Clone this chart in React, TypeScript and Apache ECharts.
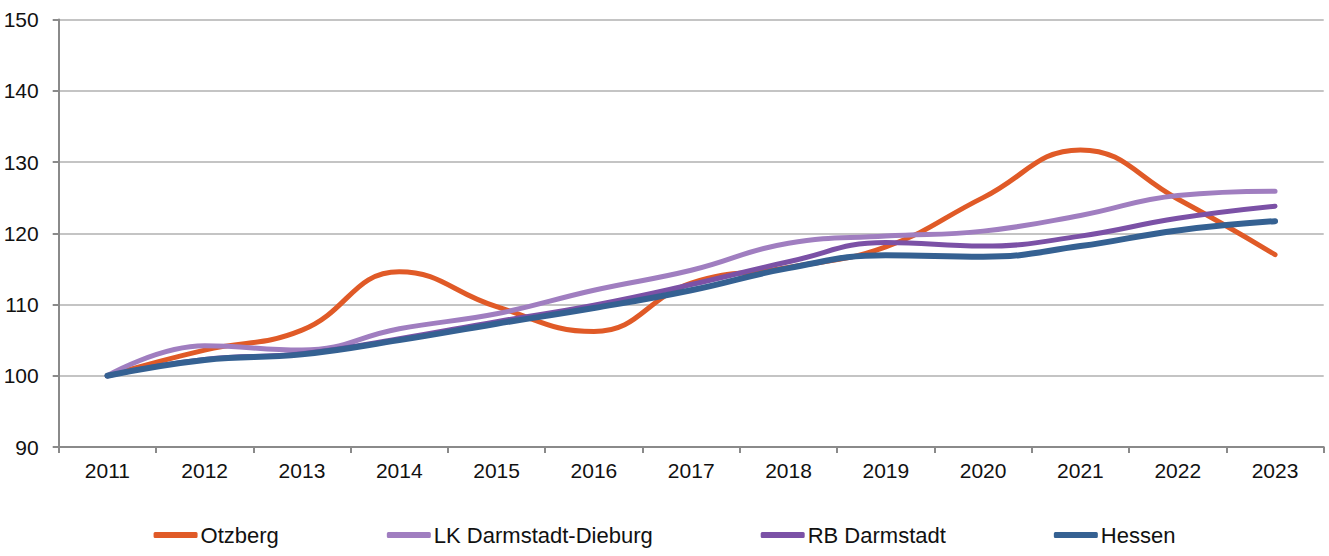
import React, { useEffect, useRef } from "react";
import * as echarts from "echarts";

const years = ["2011", "2012", "2013", "2014", "2015", "2016", "2017", "2018", "2019", "2020", "2021", "2022", "2023"];
const otzberg = [100, 103.6, 106.4, 114.6, 109.7, 106.2, 113.0, 115.2, 118.1, 125.0, 131.7, 124.8, 117.0];
const lkDarmstadtDieburg = [100, 104.2, 103.6, 106.6, 108.7, 112.0, 114.8, 118.6, 119.6, 120.3, 122.5, 125.3, 125.9];
const rbDarmstadt = [100, 102.3, 103.1, 105.2, 107.6, 109.9, 112.8, 116.0, 118.7, 118.2, 119.6, 122.1, 123.8];
const hessen = [100, 102.2, 103.0, 105.0, 107.3, 109.5, 112.0, 115.1, 116.9, 116.7, 118.2, 120.4, 121.7];

const seriesNames = ["Otzberg", "LK Darmstadt-Dieburg", "RB Darmstadt", "Hessen"];
const seriesData = [otzberg, lkDarmstadtDieburg, rbDarmstadt, hessen];
const colors = ["#E05A27", "#A07EC0", "#7B51A6", "#356192"];
const widths = [5, 5, 5, 6];

const FONT = "'Liberation Sans Narrow', 'Liberation Sans', Arial, sans-serif";

export default function App() {
  const ref = useRef<HTMLDivElement>(null);
  useEffect(() => {
    if (!ref.current) return;
    const chart = echarts.init(ref.current, null, { renderer: "svg" });
    chart.setOption({
      animation: false,
      backgroundColor: "#ffffff",
      grid: { left: 58.7, right: 5.3, top: 19.5, bottom: 109, containLabel: false },
      legend: {
        bottom: 5,
        left: "center",
        itemWidth: 44,
        itemHeight: 6,
        itemGap: 108,
        icon: "roundRect",
        textStyle: { fontFamily: FONT, fontSize: 22, color: "#111", padding: [0, 0, 0, -2] },
        data: seriesNames,
      },
      xAxis: {
        type: "category",
        data: years,
        boundaryGap: true,
        axisLine: { lineStyle: { color: "#8a8a8a", width: 2 } },
        axisTick: { show: true, length: 6, lineStyle: { color: "#8a8a8a", width: 2 } },
        axisLabel: { fontFamily: FONT, fontSize: 21, color: "#111", margin: 13 },
      },
      yAxis: {
        type: "value",
        min: 90,
        max: 150,
        interval: 10,
        axisLine: { show: true, lineStyle: { color: "#8a8a8a", width: 2 } },
        axisTick: { show: true, length: 6, lineStyle: { color: "#8a8a8a", width: 2 } },
        axisLabel: { fontFamily: FONT, fontSize: 21, color: "#111", margin: 20 },
        splitLine: { lineStyle: { color: "#b0b0b0", width: 1.5 } },
      },
      series: seriesNames.map((name, i) => ({
        name,
        type: "line",
        data: seriesData[i],
        smooth: 0.45,
        symbol: "none",
        color: colors[i],
        lineStyle: { color: colors[i], width: widths[i], cap: "round", join: "round" },
      })),
    });
    return () => chart.dispose();
  }, []);
  return <div ref={ref} style={{ width: 1329, height: 556, position: "absolute", left: 0, top: 0 }} />;
}
